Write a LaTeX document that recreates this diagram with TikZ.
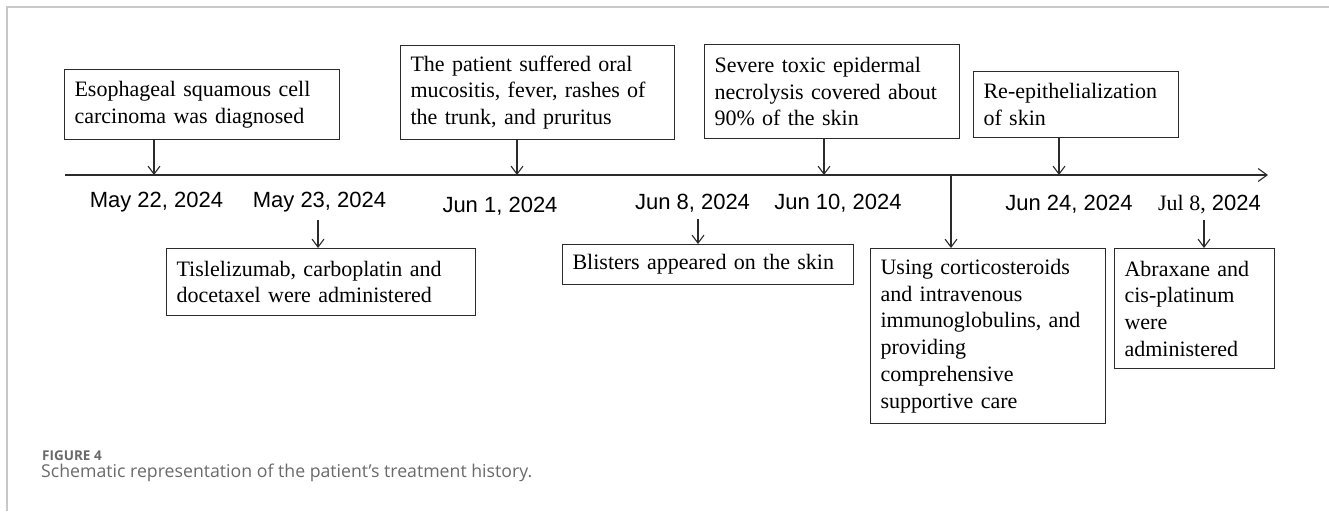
\documentclass[tikz,border=0pt]{standalone}
\usepackage{fontspec}
\setmainfont{Liberation Serif}
\newfontfamily\arialf{Liberation Sans}
\newfontfamily\capf{Open Sans}
\usetikzlibrary{arrows.meta}
\definecolor{ink}{HTML}{2B2B2B}
\definecolor{framec}{HTML}{C8C8C8}
\definecolor{capgray}{HTML}{6A6A6A}
\tikzset{
  evbox/.style={draw=ink, line width=1.1pt, rectangle, anchor=north west,
    inner xsep=10pt, inner ysep=0pt, align=left, text=black,
    font=\fontsize{22}{26.7}\selectfont},
  datelbl/.style={anchor=base, inner sep=0pt, text=black,
    font=\arialf\fontsize{22}{24}\selectfont},
  arr/.style={draw=ink, line width=1.1pt, -{Straight Barb[length=8pt,width=12pt,line width=1.1pt]}},
  tline/.style={draw=ink, line width=1.1pt, -{Straight Barb[length=9pt,width=13pt,line width=1.1pt]}},
  framel/.style={draw=framec, line width=1.2pt},
}
\begin{document}
\begin{tikzpicture}[x=1pt,y=-1pt]
\useasboundingbox (0,0) rectangle (1329,511);
% frame
\coordinate (f0) at (7,7);
\coordinate (f1) at (1329,7);
\coordinate (f2) at (7,511);
\draw[framel] (f1) -- (f0) -- (f2);
% timeline
\coordinate (tl0) at (65,175);
\coordinate (tl1) at (1268,175);
\draw[tline] (tl0) -- (tl1);
% upper boxes
\node[evbox, minimum width=275pt, minimum height=70pt, text width=255pt] (b1) at (64,69)
  {Esophageal squamous cell\\carcinoma was diagnosed};
\node[evbox, minimum width=274pt, minimum height=94pt, text width=254pt] (b2) at (400,45)
  {The patient suffered oral\\mucositis, fever, rashes of\\the trunk, and pruritus};
\node[evbox, minimum width=255pt, minimum height=94pt, text width=235pt] (b3) at (704,44)
  {Severe toxic epidermal\\necrolysis covered about\\90\% of the skin};
\node[evbox, minimum width=205pt, minimum height=66pt, text width=185pt] (b4) at (973,71)
  {Re-epithelialization\\of skin};
% lower boxes
\node[evbox, minimum width=309pt, minimum height=67pt, text width=289pt] (b5) at (166,248)
  {Tislelizumab, carboplatin and\\docetaxel were administered};
\node[evbox, minimum width=291pt, minimum height=40pt, text width=271pt] (b6) at (562,244)
  {Blisters appeared on the skin};
\node[evbox, minimum width=235pt, minimum height=175pt, text width=215pt] (b7) at (870,248)
  {Using corticosteroids\\and intravenous\\immunoglobulins, and\\providing\\comprehensive\\supportive care};
\node[evbox, minimum width=160pt, minimum height=120pt, text width=140pt] (b8) at (1114,248)
  {Abraxane and\\cis-platinum\\were\\administered};
% dates
\node[datelbl] (d1) at (156.5,207) {May 22, 2024};
\node[datelbl] (d2) at (319.5,207) {May 23, 2024};
\node[datelbl] (d3) at (500,212) {Jun 1, 2024};
\node[datelbl] (d4) at (692.5,209) {Jun 8, 2024};
\node[datelbl] (d5) at (838,209) {Jun 10, 2024};
\node[datelbl] (d6) at (1069,210) {Jun 24, 2024};
\node[datelbl] (d7) at (1209.5,210) {{\rmfamily\fontsize{22}{24}\selectfont Jul 8,} 2024};
% arrow x positions
\coordinate (x1) at (154,0);
\coordinate (x2) at (517,0);
\coordinate (x3) at (824,0);
\coordinate (x4) at (1059,0);
\coordinate (x5) at (951,0);
% upper arrows
\draw[arr] (x1 |- b1.south) -- (x1 |- tl0);
\draw[arr] (x2 |- b2.south) -- (x2 |- tl0);
\draw[arr] (x3 |- b3.south) -- (x3 |- tl0);
\draw[arr] (x4 |- b4.south) -- (x4 |- tl0);
% lower arrows
\coordinate (s2) at (318,220);
\coordinate (s4) at (698,219);
\coordinate (s7) at (1204,220);
\draw[arr] (s2) -- (s2 |- b5.north);
\draw[arr] (s4) -- (s4 |- b6.north);
\draw[arr] (x5 |- tl0) -- (x5 |- b7.north);
\draw[arr] (s7) -- (s7 |- b8.north);
% caption
\node[anchor=base west, inner sep=0pt, text=capgray, font=\capf\bfseries\fontsize{13.5}{15}\selectfont] (cap1) at (42,460) {FIGURE 4};
\node[anchor=base west, inner sep=0pt, text=capgray, font=\capf\fontsize{17.7}{19}\selectfont] (cap2) at (41,477) {Schematic representation of the patient’s treatment history.};
\end{tikzpicture}
\end{document}
